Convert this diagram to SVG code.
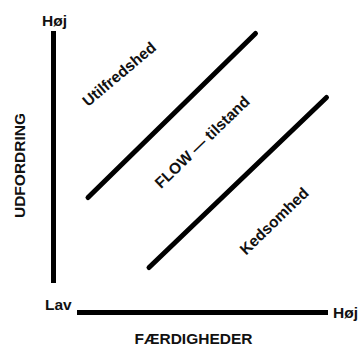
<svg xmlns="http://www.w3.org/2000/svg" width="358" height="346" viewBox="0 0 358 346">
<style>
text{font-family:"Liberation Sans",Arial,sans-serif;font-weight:bold;font-size:15.5px;fill:#111}
.ax{stroke:#000;stroke-width:5;fill:none}
.dg{stroke:#000;stroke-width:5;stroke-linecap:round;fill:none}
</style>
<rect width="358" height="346" fill="#fff"/>
<g id="connectors">
<line class="ax" x1="53.5" y1="31" x2="53.5" y2="283"/>
<line class="ax" x1="77" y1="312.5" x2="328" y2="312.5"/>
<line class="dg" x1="88" y1="197.5" x2="255.5" y2="33.5"/>
<line class="dg" x1="149" y1="267.5" x2="326.5" y2="97.5"/>
</g>
<g id="y-high"><text x="54.5" y="26" text-anchor="middle">Høj</text></g>
<g id="y-axis-label"><text transform="translate(19,165.5) rotate(-90)" y="5.5" text-anchor="middle">UDFORDRING</text></g>
<g id="low"><text x="45" y="310">Lav</text></g>
<g id="x-high"><text x="333" y="317.5">Høj</text></g>
<g id="x-axis-label"><text x="193.5" y="344" text-anchor="middle">FÆRDIGHEDER</text></g>
<g id="utilfredshed"><text transform="translate(119,74) rotate(-40)" y="5.5" text-anchor="middle">Utilfredshed</text></g>
<g id="flow"><text transform="translate(202,142) rotate(-44)" y="5.5" text-anchor="middle">FLOW — tilstand</text></g>
<g id="kedsomhed"><text transform="translate(274,221) rotate(-44)" y="5.5" text-anchor="middle">Kedsomhed</text></g>
</svg>
